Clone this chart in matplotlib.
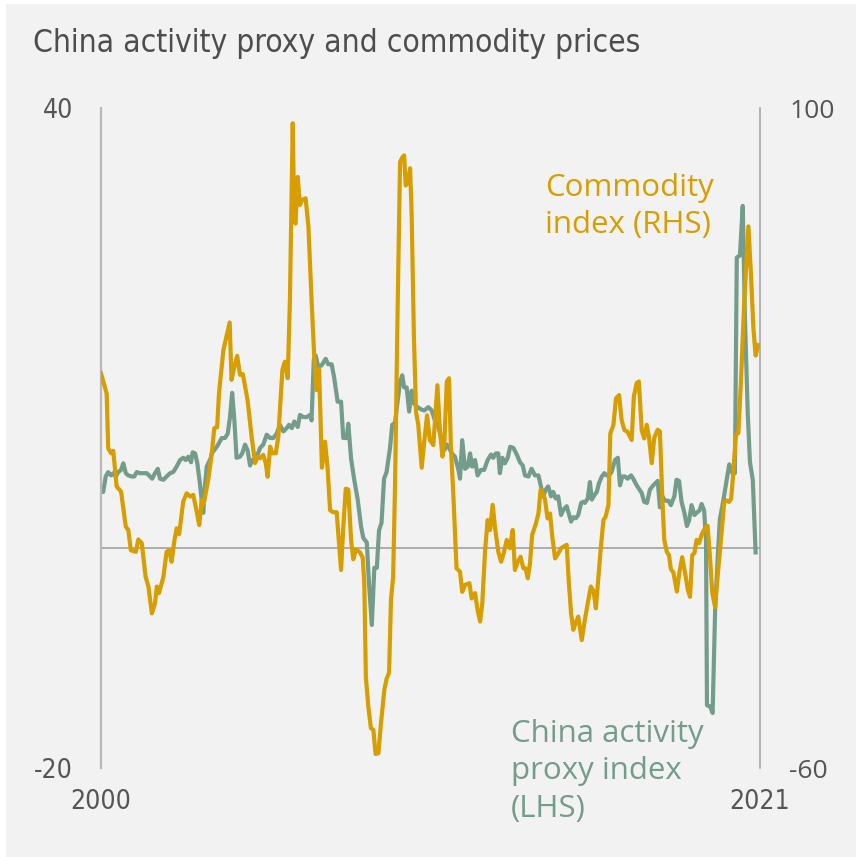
import numpy as np
import matplotlib
matplotlib.use("Agg")
import matplotlib.pyplot as plt
from matplotlib.patches import Rectangle

# commodity index (RHS), years since Jan 2000 and value
com_t = [0.00, 0.18, 0.23, 0.32, 0.39, 0.50, 0.64, 0.79, 0.87, 0.95, 1.11, 1.19, 1.30, 1.42, 1.51,
         1.62, 1.72, 1.78, 1.85, 1.99, 2.09, 2.17, 2.25, 2.34, 2.41, 2.49, 2.62, 2.73, 2.84, 2.94,
         3.05, 3.13, 3.21, 3.26, 3.31, 3.42, 3.53, 3.61, 3.70, 3.76, 3.90, 4.01, 4.10, 4.16, 4.25,
         4.34, 4.43, 4.52, 4.67, 4.80, 4.91, 4.99, 5.07, 5.17, 5.25, 5.31, 5.39, 5.46, 5.57, 5.65,
         5.78, 5.86, 5.95, 6.02, 6.11, 6.16, 6.20, 6.27, 6.34, 6.41, 6.52, 6.61, 6.71, 6.80, 6.87,
         6.95, 7.04, 7.14, 7.22, 7.30, 7.40, 7.51, 7.65, 7.72, 7.80, 7.88, 7.97, 8.04, 8.12, 8.25,
         8.34, 8.39, 8.44, 8.52, 8.60, 8.68, 8.75, 8.84, 8.92, 9.03, 9.10, 9.18, 9.24, 9.31, 9.37,
         9.45, 9.53, 9.60, 9.66, 9.71, 9.77, 9.85, 9.90, 9.97, 10.04, 10.11, 10.22, 10.30, 10.39,
         10.48, 10.59, 10.72, 10.80, 10.88, 10.94, 11.02, 11.09, 11.15, 11.23, 11.33, 11.44, 11.51,
         11.60, 11.74, 11.81, 11.92, 12.00, 12.08, 12.15, 12.24, 12.32, 12.40, 12.48, 12.56, 12.66,
         12.75, 12.83, 12.93, 13.03, 13.12, 13.19, 13.28, 13.37, 13.46, 13.53, 13.60, 13.67, 13.74,
         13.86, 13.94, 14.01, 14.09, 14.15, 14.23, 14.31, 14.38, 14.47, 14.57, 14.66, 14.75, 14.84,
         14.91, 14.98, 15.05, 15.14, 15.21, 15.32, 15.40, 15.51, 15.61, 15.70, 15.77, 15.85, 15.92,
         16.01, 16.08, 16.17, 16.23, 16.33, 16.41, 16.51, 16.59, 16.68, 16.78, 16.91, 16.98, 17.07,
         17.14, 17.23, 17.31, 17.39, 17.46, 17.55, 17.63, 17.74, 17.81, 17.89, 17.95, 18.03, 18.10,
         18.16, 18.24, 18.35, 18.43, 18.52, 18.61, 18.70, 18.77, 18.84, 18.91, 18.98, 19.06, 19.14,
         19.25, 19.33, 19.41, 19.48, 19.57, 19.65, 19.76, 19.86, 19.91, 20.01, 20.08, 20.15, 20.23,
         20.31, 20.39, 20.50, 20.63, 20.71, 20.79, 20.86, 20.95]
com_v = [35.7, 30.8, 17.5, 16.3, 16.9, 8.2, 7.0, -1.5, -2.3, -7.2, -7.6, -4.6, -5.5, -13.6, -16.0,
         -22.5, -20.1, -16.0, -17.6, -13.6, -7.6, -7.2, -10.0, -4.8, -1.9, -3.3, 4.6, 6.6, 5.8, 6.2,
         2.1, -1.1, 5.0, 3.8, 5.5, 10.0, 16.3, 22.4, 22.6, 30.8, 41.3, 45.0, 48.0, 34.1, 37.3,
         39.9, 35.3, 35.5, 29.2, 20.3, 13.9, 15.5, 15.1, 15.9, 13.9, 10.6, 17.9, 16.3, 16.3, 20.3,
         36.5, 38.5, 34.5, 53.5, 96.3, 72.8, 72.0, 83.3, 76.5, 77.7, 78.1, 71.2, 53.5, 38.9, 31.6,
         36.7, 12.8, 19.1, 12.8, 2.5, 2.0, 2.0, -12.0, -1.7, 7.7, 7.5, -4.8, -9.4, -7.0, -7.7,
         -9.0, -15.1, -37.9, -45.2, -50.3, -50.8, -56.6, -56.4, -49.3, -41.0, -38.4, -36.9, -19.3, -13.6, 8.7,
         50.1, 86.9, 88.0, 88.5, 81.2, 81.8, 85.4, 74.0, 45.0, 26.3, 23.2, 12.8, 19.1, 25.5,
         19.5, 18.3, 32.8, 21.9, 15.5, 18.7, 33.7, 34.5, 17.9, 5.8, -11.6, -12.4, -17.3,
         -15.6, -15.2, -18.9, -17.6, -21.7, -24.5, -20.1, -7.2, 0.1, -2.3, 3.8, -1.9, -7.6,
         -10.0, -8.0, -4.7, -6.7, -2.3, -12.0, -10.0, -8.8, -11.6, -11.6, -14.0, -10.4, -3.5,
         -0.7, 1.7, 7.5, 6.5, 5.0, 0.5, 1.7, -3.9, -9.2, -8.0, -6.7, -6.3, -5.9,
         -15.2, -22.5, -26.5, -24.5, -23.3, -29.0, -24.9, -20.1, -16.0, -17.2, -21.3, -13.6, -7.2,
         0.1, 0.9, 3.8, 21.1, 23.2, 29.6, 30.4, 24.4, 21.9, 21.5, 19.5, 30.0, 33.3,
         33.7, 21.9, 19.9, 23.2, 20.3, 13.9, 20.0, 22.0, 21.6, 4.9, -4.7, -7.6, -8.4,
         -11.8, -12.6, -17.2, -12.6, -8.9, -12.6, -16.8, -18.5, -8.4, -7.9, -4.7, -5.5, -3.4,
         -1.8, -1.3, -9.3, -17.6, -21.0, -13.5, -4.3, 4.5, 4.9, 4.5, 5.3, 11.6, 20.8,
         21.2, 33.3, 53.3, 71.3, 60.0, 46.6, 40.0, 42.5]

# China activity proxy index (LHS)
act_t = [0.00, 0.07, 0.15, 0.23, 0.32, 0.39, 0.47, 0.55, 0.64, 0.71, 0.79, 0.87, 0.98, 1.06, 1.14,
         1.24, 1.35, 1.46, 1.56, 1.63, 1.72, 1.81, 1.88, 1.99, 2.09, 2.20, 2.30, 2.41, 2.52, 2.62,
         2.70, 2.78, 2.87, 2.92, 3.00, 3.07, 3.15, 3.23, 3.26, 3.31, 3.37, 3.50, 3.53, 3.69, 3.85,
         3.95, 4.04, 4.11, 4.18, 4.25, 4.32, 4.43, 4.50, 4.59, 4.67, 4.75, 4.82, 4.91, 4.99, 5.07,
         5.17, 5.28, 5.39, 5.49, 5.60, 5.70, 5.81, 5.92, 5.99, 6.08, 6.16, 6.27, 6.34, 6.45, 6.55,
         6.66, 6.71, 6.78, 6.84, 6.92, 7.03, 7.16, 7.24, 7.35, 7.43, 7.54, 7.65, 7.72, 7.83, 7.88,
         7.97, 8.07, 8.18, 8.29, 8.36, 8.47, 8.54, 8.63, 8.71, 8.79, 8.86, 8.94, 9.02, 9.10, 9.21,
         9.28, 9.37, 9.45, 9.53, 9.60, 9.66, 9.74, 9.82, 9.90, 9.98, 10.09, 10.20, 10.30, 10.43,
         10.54, 10.64, 10.75, 10.86, 10.94, 11.02, 11.09, 11.18, 11.28, 11.39, 11.44, 11.51, 11.60,
         11.69, 11.76, 11.83, 11.92, 12.00, 12.11, 12.21, 12.32, 12.43, 12.50, 12.58, 12.66, 12.71,
         12.79, 12.87, 12.96, 13.04, 13.14, 13.25, 13.35, 13.44, 13.51, 13.62, 13.72, 13.83, 13.94,
         14.02, 14.09, 14.17, 14.25, 14.34, 14.41, 14.49, 14.57, 14.66, 14.74, 14.84, 14.89, 14.98,
         15.05, 15.13, 15.21, 15.30, 15.37, 15.42, 15.51, 15.58, 15.64, 15.72, 15.80, 15.87, 15.96,
         16.04, 16.11, 16.19, 16.27, 16.38, 16.47, 16.54, 16.61, 16.70, 16.78, 16.89, 16.96, 17.07,
         17.14, 17.23, 17.31, 17.40, 17.49, 17.60, 17.74, 17.81, 17.89, 17.97, 18.08, 18.16, 18.27,
         18.34, 18.42, 18.50, 18.59, 18.67, 18.74, 18.82, 18.91, 18.98, 19.07, 19.14, 19.22, 19.28,
         19.31, 19.41, 19.49, 19.57, 19.65, 19.72, 19.83, 19.94, 20.02, 20.12, 20.20, 20.26, 20.36,
         20.45, 20.52, 20.61, 20.68, 20.77, 20.86]
act_v = [5.1, 5.1, 6.5, 6.9, 6.6, 6.8, 6.5, 6.9, 7.1, 7.7, 6.8, 6.6, 6.5, 6.5, 6.9,
         6.8, 6.8, 6.8, 6.5, 6.3, 6.8, 7.2, 6.3, 6.2, 6.5, 6.8, 6.9, 7.4, 8.0, 8.2,
         8.0, 8.3, 7.8, 8.7, 8.6, 7.7, 5.9, 3.8, 3.2, 5.6, 7.4, 8.2, 8.6, 9.2, 10.0,
         10.0, 10.4, 11.9, 14.1, 11.6, 8.2, 8.3, 8.6, 9.4, 8.9, 7.5, 8.0, 7.8, 8.5, 9.1,
         9.4, 10.3, 10.0, 10.0, 10.4, 11.2, 10.6, 10.9, 11.2, 10.9, 11.5, 11.0, 12.1, 11.9, 11.9,
         12.1, 11.6, 17.1, 17.5, 16.5, 16.6, 17.2, 16.7, 16.7, 15.5, 13.3, 13.3, 10.0, 10.0, 11.3,
         8.1, 6.2, 4.4, 1.9, 0.9, 0.5, -3.2, -7.0, -1.8, -1.8, 1.6, 2.3, 6.3, 6.9, 9.1,
         11.2, 11.4, 13.3, 15.1, 15.7, 14.6, 14.6, 12.4, 14.3, 13.1, 12.8, 12.6, 12.5, 12.8,
         12.5, 11.6, 11.0, 9.8, 8.9, 9.4, 9.1, 8.6, 8.3, 7.1, 6.3, 9.8, 7.2,
         7.4, 8.6, 7.4, 8.0, 6.6, 7.1, 7.1, 8.0, 8.5, 8.2, 8.6, 8.6, 6.8,
         8.2, 7.7, 8.2, 9.2, 9.1, 8.5, 7.8, 7.5, 6.6, 6.5, 7.2, 6.6, 6.6,
         5.6, 4.7, 5.3, 5.6, 4.7, 5.1, 4.5, 4.7, 3.0, 3.5, 3.8, 3.3, 2.4,
         2.8, 2.7, 3.0, 4.1, 4.2, 4.1, 4.5, 6.0, 4.4, 4.8, 5.1, 5.9, 6.5,
         6.8, 6.6, 6.6, 6.9, 8.0, 8.2, 5.7, 6.5, 6.5, 6.3, 6.6, 6.3, 5.7,
         5.4, 5.0, 4.2, 4.1, 5.3, 5.7, 6.1, 3.7, 4.7, 4.3, 4.3, 3.9, 4.7,
         6.2, 6.1, 4.2, 3.2, 2.0, 2.5, 3.9, 3.0, 3.2, 3.4, 4.0, 3.4, 0.6,
         -14.3, -14.4, -15.0, -5.7, -1.0, 2.6, 4.3, 6.2, 7.6, 6.8, 6.8, 26.4, 26.6,
         31.1, 20.9, 12.2, 7.8, 6.2, -0.4]

GOLD = "#d69e00"
GREEN = "#749c8a"
GREY_TXT = "#555555"
BG = "#f2f2f2"

W, H = 856, 857
fig = plt.figure(figsize=(W / 100, H / 100), dpi=100, facecolor="white")
fig.patches.append(Rectangle((6 / W, 0), 1, 1 - 4 / H, transform=fig.transFigure,
                             facecolor=BG, edgecolor="none", zorder=-10))

ax = fig.add_axes([101 / W, 1 - 768 / H, 659 / W, 660 / H])
ax.set_facecolor("none")
ax2 = ax.twinx()

ax.plot(2000 + np.array(act_t), act_v, color=GREEN, lw=3.0, solid_joinstyle="round")
ax2.plot(2000 + np.array(com_t), com_v, color=GOLD, lw=3.0, solid_joinstyle="round")
ax.axhline(0, color="#9a9a9a", lw=1.1, zorder=0)

ax.set_xlim(2000, 2021)
ax.set_ylim(-20, 40)
ax2.set_ylim(-60, 100)

for s in ["top", "bottom", "right"]:
    ax.spines[s].set_visible(False)
for s in ["top", "bottom", "left"]:
    ax2.spines[s].set_visible(False)
ax.spines["left"].set_color("#b8b8b8")
ax.spines["left"].set_linewidth(1.6)
ax2.spines["right"].set_color("#a0a0a0")
ax2.spines["right"].set_linewidth(1.1)

ax.set_yticks([-20, 40])
ax.set_yticklabels(["-20", "40"], fontsize=19, color=GREY_TXT, fontstretch="condensed")
ax.tick_params(axis="y", length=0, pad=20)
ax.set_xticks([2000, 2021])
ax.set_xticklabels(["2000", "2021"], fontsize=19, color=GREY_TXT, fontstretch="condensed")
ax.tick_params(axis="x", length=0, pad=15)
ax2.set_yticks([-60, 100])
ax2.set_yticklabels(["-60", "100"], fontsize=19, color=GREY_TXT, family="Open Sans")
ax2.tick_params(axis="y", length=0, pad=21)

fig.text(33 / W, 1 - 52 / H, "China activity proxy and commodity prices", fontsize=22.7,
         color="#4d4d4d", ha="left", va="baseline", fontstretch="condensed")
fig.text(545 / W, 1 - 173 / H, "Commodity\nindex (RHS)", fontsize=22.5, color=GOLD,
         ha="left", va="top", family="Open Sans", linespacing=1.32)
fig.text(511 / W, 1 - 719 / H, "China activity\nproxy index\n(LHS)", fontsize=22.5, color=GREEN,
         ha="left", va="top", family="Open Sans", linespacing=1.32)

fig.savefig("out.png", dpi=100, facecolor="white")
